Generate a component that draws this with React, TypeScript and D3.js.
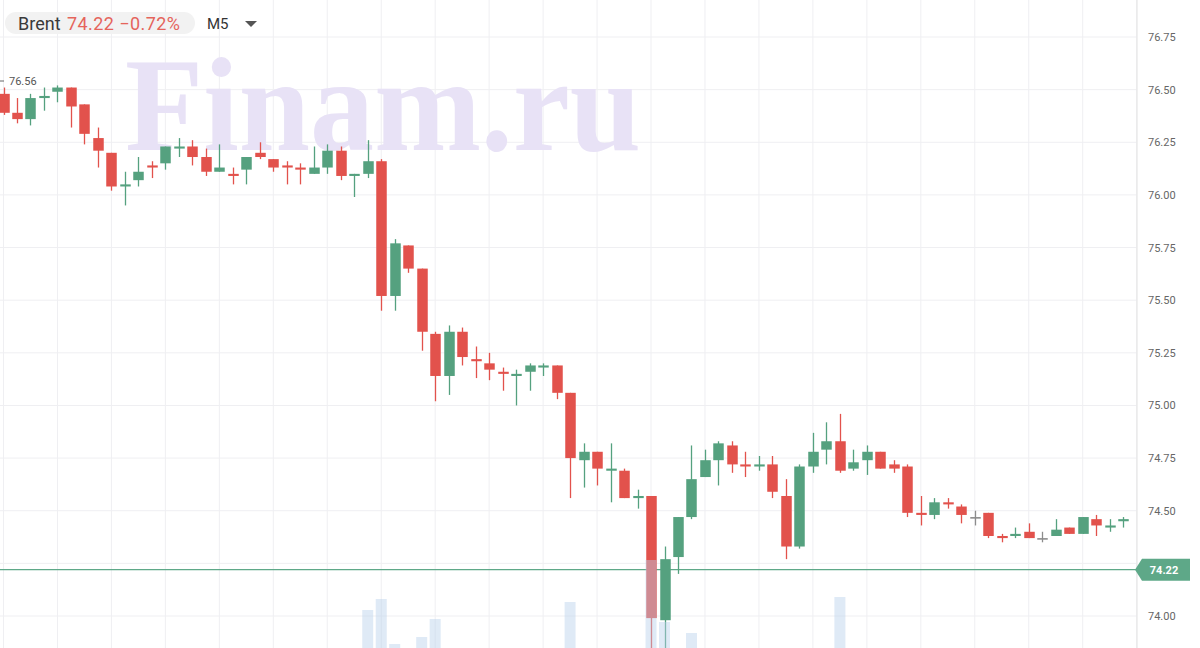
import React from 'react';
import * as d3 from 'd3';

// Brent, M5 candles
const opens = [
  76.48, 76.39, 76.36, 76.46, 76.49, 76.51, 76.43, 76.27, 76.2, 76.04,
  76.07, 76.14, 76.15, 76.22, 76.23, 76.18, 76.11, 76.1, 76.12, 76.2,
  76.17, 76.14, 76.13, 76.1, 76.13, 76.21, 76.09, 76.1, 76.16, 75.52,
  75.76, 75.65, 75.34, 75.14, 75.35, 75.22, 75.2, 75.16, 75.14, 75.16,
  75.18, 75.19, 75.06, 74.74, 74.78, 74.69, 74.69, 74.56, 74.57, 73.98,
  74.28, 74.47, 74.66, 74.74, 74.81, 74.72, 74.71, 74.72, 74.57, 74.33,
  74.71, 74.79, 74.83, 74.7, 74.74, 74.78, 74.72, 74.71, 74.49, 74.48,
  74.54, 74.52, 74.47, 74.49, 74.38, 74.38, 74.4, 74.37, 74.38, 74.42,
  74.39, 74.46, 74.42, 74.45,
];
const closes = [
  76.39, 76.36, 76.46, 76.47, 76.51, 76.42, 76.29, 76.21, 76.04, 76.05,
  76.11, 76.13, 76.23, 76.23, 76.18, 76.11, 76.13, 76.09, 76.18, 76.18,
  76.13, 76.13, 76.12, 76.13, 76.21, 76.09, 76.1, 76.16, 75.52, 75.77,
  75.65, 75.35, 75.14, 75.35, 75.23, 75.21, 75.17, 75.15, 75.15, 75.19,
  75.19, 75.06, 74.75, 74.78, 74.7, 74.7, 74.56, 74.57, 73.99, 74.27,
  74.47, 74.65, 74.74, 74.82, 74.72, 74.71, 74.72, 74.59, 74.33, 74.71,
  74.78, 74.83, 74.69, 74.73, 74.78, 74.7, 74.7, 74.49, 74.48, 74.54,
  74.53, 74.48, 74.47, 74.38, 74.37, 74.39, 74.37, 74.37, 74.41, 74.39,
  74.47, 74.43, 74.43, 74.46,
];
const highs = [
  76.51, 76.46, 76.48, 76.51, 76.52, 76.51, 76.43, 76.32, 76.2, 76.11,
  76.18, 76.16, 76.23, 76.27, 76.26, 76.22, 76.24, 76.13, 76.18, 76.25,
  76.17, 76.16, 76.15, 76.23, 76.24, 76.23, 76.1, 76.26, 76.17, 75.79,
  75.76, 75.65, 75.35, 75.38, 75.37, 75.28, 75.25, 75.18, 75.17, 75.2,
  75.2, 75.19, 75.06, 74.82, 74.78, 74.82, 74.7, 74.6, 74.57, 74.33,
  74.47, 74.81, 74.79, 74.83, 74.83, 74.78, 74.76, 74.76, 74.65, 74.72,
  74.87, 74.92, 74.96, 74.79, 74.81, 74.78, 74.74, 74.72, 74.57, 74.56,
  74.56, 74.53, 74.5, 74.49, 74.39, 74.42, 74.44, 74.4, 74.46, 74.42,
  74.47, 74.48, 74.46, 74.47,
];
const lows = [
  76.38, 76.34, 76.33, 76.4, 76.44, 76.32, 76.24, 76.13, 76.02, 75.95,
  76.04, 76.08, 76.12, 76.18, 76.14, 76.09, 76.11, 76.05, 76.05, 76.17,
  76.11, 76.05, 76.05, 76.1, 76.1, 76.07, 75.99, 76.08, 75.45, 75.45,
  75.63, 75.26, 75.02, 75.05, 75.19, 75.13, 75.12, 75.07, 75.0, 75.07,
  75.14, 75.03, 74.56, 74.61, 74.62, 74.54, 74.56, 74.51, 73.84, 73.82,
  74.2, 74.46, 74.66, 74.62, 74.68, 74.66, 74.69, 74.56, 74.27, 74.32,
  74.68, 74.72, 74.68, 74.69, 74.67, 74.7, 74.68, 74.47, 74.43, 74.46,
  74.51, 74.44, 74.43, 74.37, 74.35, 74.37, 74.37, 74.35, 74.38, 74.39,
  74.39, 74.38, 74.4, 74.42,
];
// only the bars that reach into the visible area
const volumes = [
  0, 0, 0, 0, 0, 0, 0, 0, 0, 0,
  0, 0, 0, 0, 0, 0, 0, 0, 0, 0,
  0, 0, 0, 0, 0, 0, 0, 380, 490, 40,
  0, 110, 290, 0, 0, 0, 0, 0, 0, 0,
  0, 0, 460, 0, 0, 0, 0, 0, 880, 260,
  0, 150, 0, 0, 0, 0, 0, 0, 0, 0,
  0, 0, 510, 0, 0, 0, 0, 0, 0, 0,
  0, 0, 0, 0, 0, 0, 0, 0, 0, 0,
  0, 0, 0, 0,
];
const priceTicks = [76.75, 76.5, 76.25, 76.0, 75.75, 75.5, 75.25, 75.0, 74.75, 74.5, 74.0];
const lastPrice = 74.22;
const changePct = -0.72;
const visibleHigh = 76.56;

const W = 1200;
const H = 648;
const plotRight = 1137;
const RED = '#e2524c';
const GREEN = '#55a17f';
const GREY = '#8c8c8c';
const FONT = 'Roboto, "Open Sans", sans-serif';

export default function App() {
  const x = d3.scaleLinear().domain([0, opens.length]).range([3.5, 3.5 + opens.length * 13.49]);
  const y = d3.scaleLinear().domain([74, 76.75]).range([616, 37]);
  const vy = d3.scaleLinear().domain([0, 1000]).range([H, H - 100]);
  const bw = 10.5;

  const candles = opens.map((o, i) => ({
    i,
    o,
    c: closes[i],
    h: highs[i],
    l: lows[i],
    v: volumes[i],
  }));
  const gridIdx = d3.range(0, opens.length + 1, 4);
  const fmt = d3.format('.2f');
  const colorOf = (o: number, c: number) => (c > o ? GREEN : c < o ? RED : GREY);
  const ly = y(lastPrice);
  const quote = `${fmt(lastPrice)} \u2212${fmt(Math.abs(changePct))}%`;

  return (
    <div style={{ position: 'absolute', left: 0, top: 0 }}>
      <svg width={W} height={H} style={{ display: 'block', background: '#fff' }}>
        {/* grid */}
        <g stroke="#efeff2" strokeWidth={1}>
          {gridIdx.map((g) => (
            <line key={'v' + g} x1={x(g)} x2={x(g)} y1={0} y2={H} />
          ))}
          {priceTicks.concat([74.25]).map((t) => (
            <line key={'h' + t} x1={0} x2={plotRight} y1={y(t)} y2={y(t)} />
          ))}
        </g>

        {/* watermark */}
        <text
          x={125}
          y={150}
          fontFamily='"Liberation Serif", "DejaVu Serif", serif'
          fontWeight="bold"
          fontSize={134}
          fill="#e8e2f6"
          textLength={516}
          lengthAdjust="spacingAndGlyphs"
        >
          Finam.ru
        </text>

        {/* last price line */}
        <line x1={0} x2={plotRight} y1={ly} y2={ly} stroke="#5ea888" strokeWidth={1.2} />

        {/* candles */}
        {candles.map((d) => {
          const col = colorOf(d.o, d.c);
          const cx = Math.round(x(d.i)) + 0.5;
          const top = y(Math.max(d.o, d.c));
          const bot = y(Math.min(d.o, d.c));
          return (
            <g key={d.i}>
              <line x1={cx} x2={cx} y1={y(d.h)} y2={y(d.l)} stroke={col} strokeWidth={1.3} />
              <rect x={cx - bw / 2} y={top} width={bw} height={Math.max(1.6, bot - top)} fill={col} />
            </g>
          );
        })}

        {/* volume */}
        <g fill="#b9d1ea" fillOpacity={0.45}>
          {candles
            .filter((d) => d.v > 0)
            .map((d) => (
              <rect key={'vol' + d.i} x={x(d.i) - 5.5} y={vy(d.v)} width={11} height={H - vy(d.v)} />
            ))}
        </g>

        {/* high marker */}
        <line x1={0} x2={4} y1={y(visibleHigh) + 4} y2={y(visibleHigh) + 4} stroke="#666" />
        <text x={9} y={y(visibleHigh) + 8} fontFamily={FONT} fontSize={11} fill="#555">
          {fmt(visibleHigh)}
        </text>

        {/* right axis */}
        <line x1={plotRight} x2={plotRight} y1={0} y2={H} stroke="#e4e4e4" />
        {priceTicks.map((t) => (
          <text key={'t' + t} x={1148} y={y(t) + 4} fontFamily={FONT} fontSize={11} fill="#666">
            {fmt(t)}
          </text>
        ))}
        <path
          d={`M${plotRight - 2},${ly} L${plotRight + 5},${ly - 11} L1190,${ly - 11} L1190,${ly + 11} L${plotRight + 5},${ly + 11} Z`}
          fill="#5ea888"
        />
        <text x={1164} y={ly + 4} textAnchor="middle" fontFamily={FONT} fontSize={11} fontWeight="bold" fill="#fff">
          {fmt(lastPrice)}
        </text>

        {/* header */}
        <rect x={5} y={12} width={190} height={22} rx={11} fill="#f2f2f2" />
        <text x={18} y={30} fontFamily={FONT} fontSize={18} fill="#3a3a3a">
          Brent
        </text>
        <text x={67} y={30} fontFamily={FONT} fontSize={18} fill="#e5645b" textLength={113} lengthAdjust="spacing">
          {quote}
        </text>
        <text x={207} y={29} fontFamily={FONT} fontSize={15} fill="#333">
          M5
        </text>
        <path d="M245,21 L257,21 L251,27 Z" fill="#555" />
      </svg>
    </div>
  );
}
